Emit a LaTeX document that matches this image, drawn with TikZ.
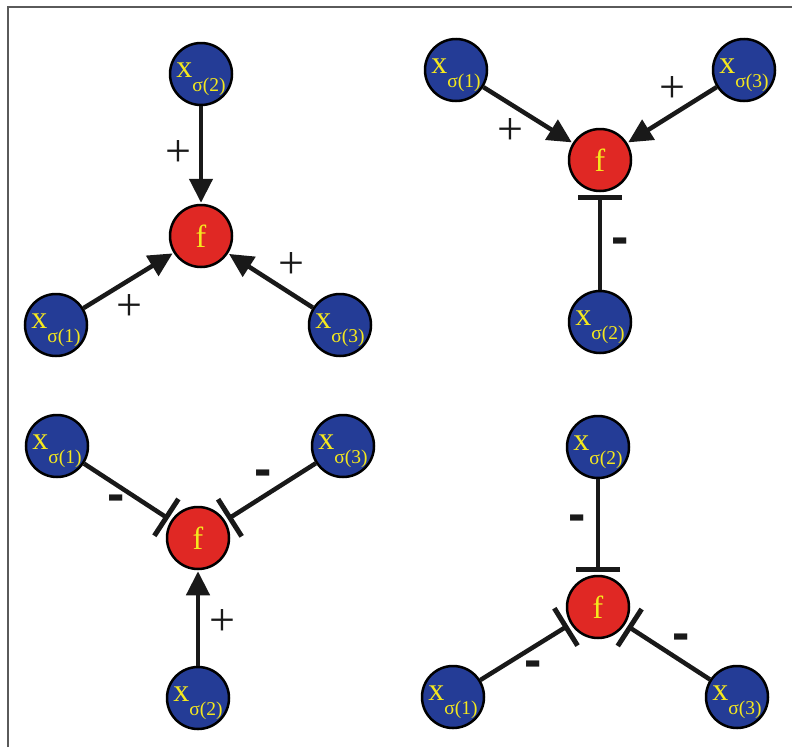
\documentclass[tikz,border=0pt]{standalone}
\usepackage{fontspec}
\newfontfamily\signfont{Liberation Sans}
\newfontfamily\nodefont{Liberation Serif}
\usetikzlibrary{arrows.meta}
\definecolor{nodeblue}{RGB}{36,60,150}
\definecolor{nodered}{RGB}{224,40,36}
\definecolor{txtyellow}{RGB}{245,232,30}
\definecolor{framegray}{RGB}{90,90,90}
\tikzset{
  xnode/.style={circle, draw=black, line width=2.5pt, fill=nodeblue, minimum size=62pt, inner sep=0pt, text=txtyellow, font=\nodefont\fontsize{32}{32}\selectfont, text height=10pt, text depth=4pt},
  fnode/.style={circle, draw=black, line width=2.5pt, fill=nodered, minimum size=62pt, inner sep=0pt, text=txtyellow, font=\nodefont\fontsize{32}{32}\selectfont},
  act/.style={line width=4.5pt, draw=black!90, -{Triangle[length=24pt,width=23pt]}, shorten >=1pt},
  inh/.style={line width=4.5pt, draw=black!90, -{Bar[width=44pt,line width=5pt]}, shorten >=3pt},
  plus/.style={font=\nodefont\fontsize{46}{46}\selectfont, text=black!90, inner sep=0pt},
  minus/.style={font=\signfont\bfseries\fontsize{52}{52}\selectfont, text=black!90, inner sep=0pt},
}
\newcommand{\xs}[1]{x\raisebox{-14pt}{\fontsize{19.5}{19.5}\selectfont σ(#1)}}
\begin{document}
\begin{tikzpicture}[x=1pt,y=-1pt]
\useasboundingbox (0,0) rectangle (792,747);
\draw[framegray, line width=1.5pt] (8,747) -- (8,7) -- (792,7);

% panel 1
\node[fnode] (f1) at (201,236) {f};
\node[xnode] (a1) at (201,74) {\xs{2}};
\node[xnode] (b1) at (56,325) {\xs{1}};
\node[xnode] (c1) at (340,325) {\xs{3}};
\draw[act] (a1) -- (f1);
\draw[act] (b1) -- (f1);
\draw[act] (c1) -- (f1);
\node[plus] (p1a) at (178,154) {+};
\node[plus] (p1b) at (129,308) {+};
\node[plus] (p1c) at (291,266) {+};

% panel 2
\node[fnode] (f2) at (600,160) {f};
\node[xnode] (a2) at (456,70) {\xs{1}};
\node[xnode] (b2) at (744,70) {\xs{3}};
\node[xnode] (c2) at (600,322) {\xs{2}};
\draw[act] (a2) -- (f2);
\draw[act] (b2) -- (f2);
\draw[inh] (c2) -- (f2);
\node[plus] (p2a) at (510,132) {+};
\node[plus] (p2b) at (672,90) {+};
\node[minus] (m2a) at (620,246) {-};

% panel 3
\node[fnode] (f3) at (198,538) {f};
\node[xnode] (a3) at (57,446) {\xs{1}};
\node[xnode] (b3) at (343,446) {\xs{3}};
\node[xnode] (c3) at (198,698) {\xs{2}};
\draw[inh] (a3) -- (f3);
\draw[inh] (b3) -- (f3);
\draw[act] (c3) -- (f3);
\node[minus] (m3a) at (116,503) {-};
\node[minus] (m3b) at (263,478) {-};
\node[plus] (p3a) at (222,622) {+};

% panel 4
\node[fnode] (f4) at (598,607) {f};
\node[xnode] (a4) at (598,447) {\xs{2}};
\node[xnode] (b4) at (453,697) {\xs{1}};
\node[xnode] (c4) at (737,697) {\xs{3}};
\draw[inh] (a4) -- (f4);
\draw[inh] (b4) -- (f4);
\draw[inh] (c4) -- (f4);
\node[minus] (m4a) at (577,523) {-};
\node[minus] (m4b) at (533,669) {-};
\node[minus] (m4c) at (681,642) {-};
\end{tikzpicture}
\end{document}
